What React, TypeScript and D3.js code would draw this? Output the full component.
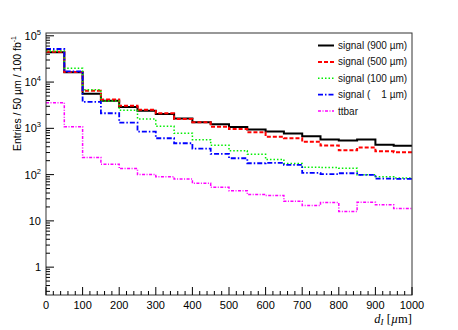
import * as d3 from "d3";
import React, { useEffect, useRef } from "react";

// bin low edges (µm), 50 µm bins
const binEdges = [0, 50, 100, 150, 200, 250, 300, 350, 400, 450, 500, 550, 600, 650, 700, 750, 800, 850, 900, 950, 1000];

const signal900 = [44000, 16300, 5610, 3965, 2900, 2410, 2047, 1622, 1355, 1227, 1066, 942, 853, 773, 675, 572, 545, 572, 440, 419];
const signal500 = [45400, 16500, 6510, 4180, 3090, 2535, 2110, 1597, 1355, 1088, 965, 824, 655, 612, 511, 425, 336, 385, 320, 305];
const signal100 = [47000, 19900, 6800, 3900, 2460, 1597, 1110, 783, 570, 431, 328, 276, 212, 174, 145, 142, 138, 99, 90, 85];
const signal1 = [51900, 17100, 3720, 2120, 1328, 849, 611, 476, 364, 280, 226, 176, 180, 163, 109, 102, 107, 99, 82, 81];
const ttbar = [3590, 1088, 234, 168, 135, 100, 90, 80, 65, 53, 45, 37.2, 35.4, 26.6, 21.5, 24.9, 16, 25.3, 22.3, 18.5];

const seriesNames = ["signal (900 µm)", "signal (500 µm)", "signal (100 µm)", "signal (\u2007\u20071 µm)", "ttbar"];
const xTicks = [0, 100, 200, 300, 400, 500, 600, 700, 800, 900, 1000];
const yDecades = [1, 10, 100, 1000, 10000, 100000];

const series = [
  { name: seriesNames[0], values: signal900, color: "#000000", dash: null, width: 2 },
  { name: seriesNames[1], values: signal500, color: "#ff0000", dash: "4,2", width: 2 },
  { name: seriesNames[2], values: signal100, color: "#00ee00", dash: "1.5,2", width: 1.5 },
  { name: seriesNames[3], values: signal1, color: "#0000ff", dash: "5,2,1.5,2", width: 1.8 },
  { name: seriesNames[4], values: ttbar, color: "#ff00ff", dash: "3,1.5,1,1.5", width: 1.5 },
];

export default function App() {
  const svgRef = useRef<SVGSVGElement>(null);
  const width = 458;
  const height = 330;
  const margin = { top: 33, right: 46, bottom: 35, left: 46 };

  useEffect(() => {
    const svg = d3.select(svgRef.current);
    svg.selectAll("*").remove();

    const x0 = margin.left;
    const x1 = width - margin.right;
    const y0 = height - margin.bottom;
    const y1 = margin.top;

    const xScale = d3.scaleLinear().domain([0, 1000]).range([x0, x1]);
    const yScale = d3.scaleLog().domain([0.25, 1.15e5]).range([y0, y1]);

    const font = "'Liberation Sans', Arial, sans-serif";

    // histograms
    const clip = svg.append("defs").append("clipPath").attr("id", "plotclip");
    clip.append("rect").attr("x", x0).attr("y", y1).attr("width", x1 - x0).attr("height", y0 - y1);

    const line = d3
      .line<[number, number]>()
      .x((d) => xScale(d[0]))
      .y((d) => yScale(d[1]))
      .curve(d3.curveStepAfter);

    const histG = svg.append("g").attr("clip-path", "url(#plotclip)");
    series.forEach((s) => {
      const pts: [number, number][] = s.values.map((v, i) => [binEdges[i], v]);
      pts.push([binEdges[binEdges.length - 1], s.values[s.values.length - 1]]);
      histG
        .append("path")
        .attr("d", line(pts))
        .attr("fill", "none")
        .attr("stroke", s.color)
        .attr("stroke-width", s.width)
        .attr("stroke-dasharray", s.dash);
    });

    // frame
    svg
      .append("rect")
      .attr("x", x0)
      .attr("y", y1)
      .attr("width", x1 - x0)
      .attr("height", y0 - y1)
      .attr("fill", "none")
      .attr("stroke", "#333")
      .attr("stroke-width", 1);

    // x ticks
    const xMinor = d3.range(0, 1001, 20);
    svg
      .append("g")
      .selectAll("line")
      .data(xMinor)
      .join("line")
      .attr("x1", (d) => xScale(d))
      .attr("x2", (d) => xScale(d))
      .attr("y1", y0)
      .attr("y2", (d) => (d % 100 === 0 ? y0 - 8 : y0 - 4))
      .attr("stroke", "#000");

    svg
      .append("g")
      .selectAll("text")
      .data(xTicks)
      .join("text")
      .attr("x", (d) => xScale(d))
      .attr("y", y0 + 14)
      .attr("text-anchor", "middle")
      .attr("font-family", font)
      .attr("font-size", 11)
      .text((d) => d);

    // y ticks
    const yMinor: number[] = [];
    [0.1, 1, 10, 100, 1000, 10000].forEach((dec) => {
      for (let k = 2; k <= 9; k++) yMinor.push(dec * k);
    });
    const yDomain = yScale.domain();
    const yAll = yMinor.concat(yDecades).filter((v) => v >= yDomain[0] && v <= yDomain[1]);
    svg
      .append("g")
      .selectAll("line")
      .data(yAll)
      .join("line")
      .attr("x1", x0)
      .attr("x2", (d) => (yDecades.includes(d) ? x0 + 8 : x0 + 4))
      .attr("y1", (d) => yScale(d))
      .attr("y2", (d) => yScale(d))
      .attr("stroke", "#000");

    const yLab = svg
      .append("g")
      .selectAll("text")
      .data(yDecades)
      .join("text")
      .attr("x", x0 - 5)
      .attr("y", (d) => yScale(d) + 4)
      .attr("text-anchor", "end")
      .attr("font-family", font)
      .attr("font-size", 11);
    yLab.each(function (d) {
      const t = d3.select(this);
      const p = Math.round(Math.log10(d));
      if (p < 2) {
        t.text(d);
      } else {
        t.append("tspan").text("10");
        t.append("tspan").attr("dy", -5).attr("font-size", 7.5).text(p);
      }
    });

    // y axis title
    const yt = svg
      .append("text")
      .attr("transform", `translate(21, ${y1 + 3}) rotate(-90)`)
      .attr("text-anchor", "end")
      .attr("font-family", font)
      .attr("font-size", 10.5);
    yt.append("tspan").text("Entries / 50 µm / 100 fb");
    yt.append("tspan").attr("dy", -5).attr("font-size", 7).text("-1");

    // x axis title
    const xt = svg
      .append("text")
      .attr("x", x1)
      .attr("y", y0 + 28)
      .attr("text-anchor", "end")
      .attr("font-family", "'Liberation Serif', 'Times New Roman', serif")
      .attr("font-size", 12.5);
    xt.append("tspan").attr("font-style", "italic").text("d");
    xt.append("tspan").attr("font-style", "italic").attr("font-size", 9).attr("dy", 2).text("I");
    xt.append("tspan").attr("dy", -2).text(" [");
    xt.append("tspan").attr("font-style", "italic").text("µ");
    xt.append("tspan").text("m]");

    // legend
    const leg = svg.append("g");
    series.forEach((s, i) => {
      const ly = 45.5 + i * 16.4;
      leg
        .append("line")
        .attr("x1", 318)
        .attr("x2", 334)
        .attr("y1", ly)
        .attr("y2", ly)
        .attr("stroke", s.color)
        .attr("stroke-width", s.width)
        .attr("stroke-dasharray", s.dash);
      leg
        .append("text")
        .attr("x", 338)
        .attr("y", ly + 3.5)
        .attr("font-family", font)
        .attr("font-size", 10)
        .attr("fill", "#111")
        .text(s.name);
    });
  }, []);

  return (
    <svg
      ref={svgRef}
      width={width}
      height={height}
      style={{ position: "absolute", left: 0, top: 0, background: "#fff" }}
    ></svg>
  );
}
